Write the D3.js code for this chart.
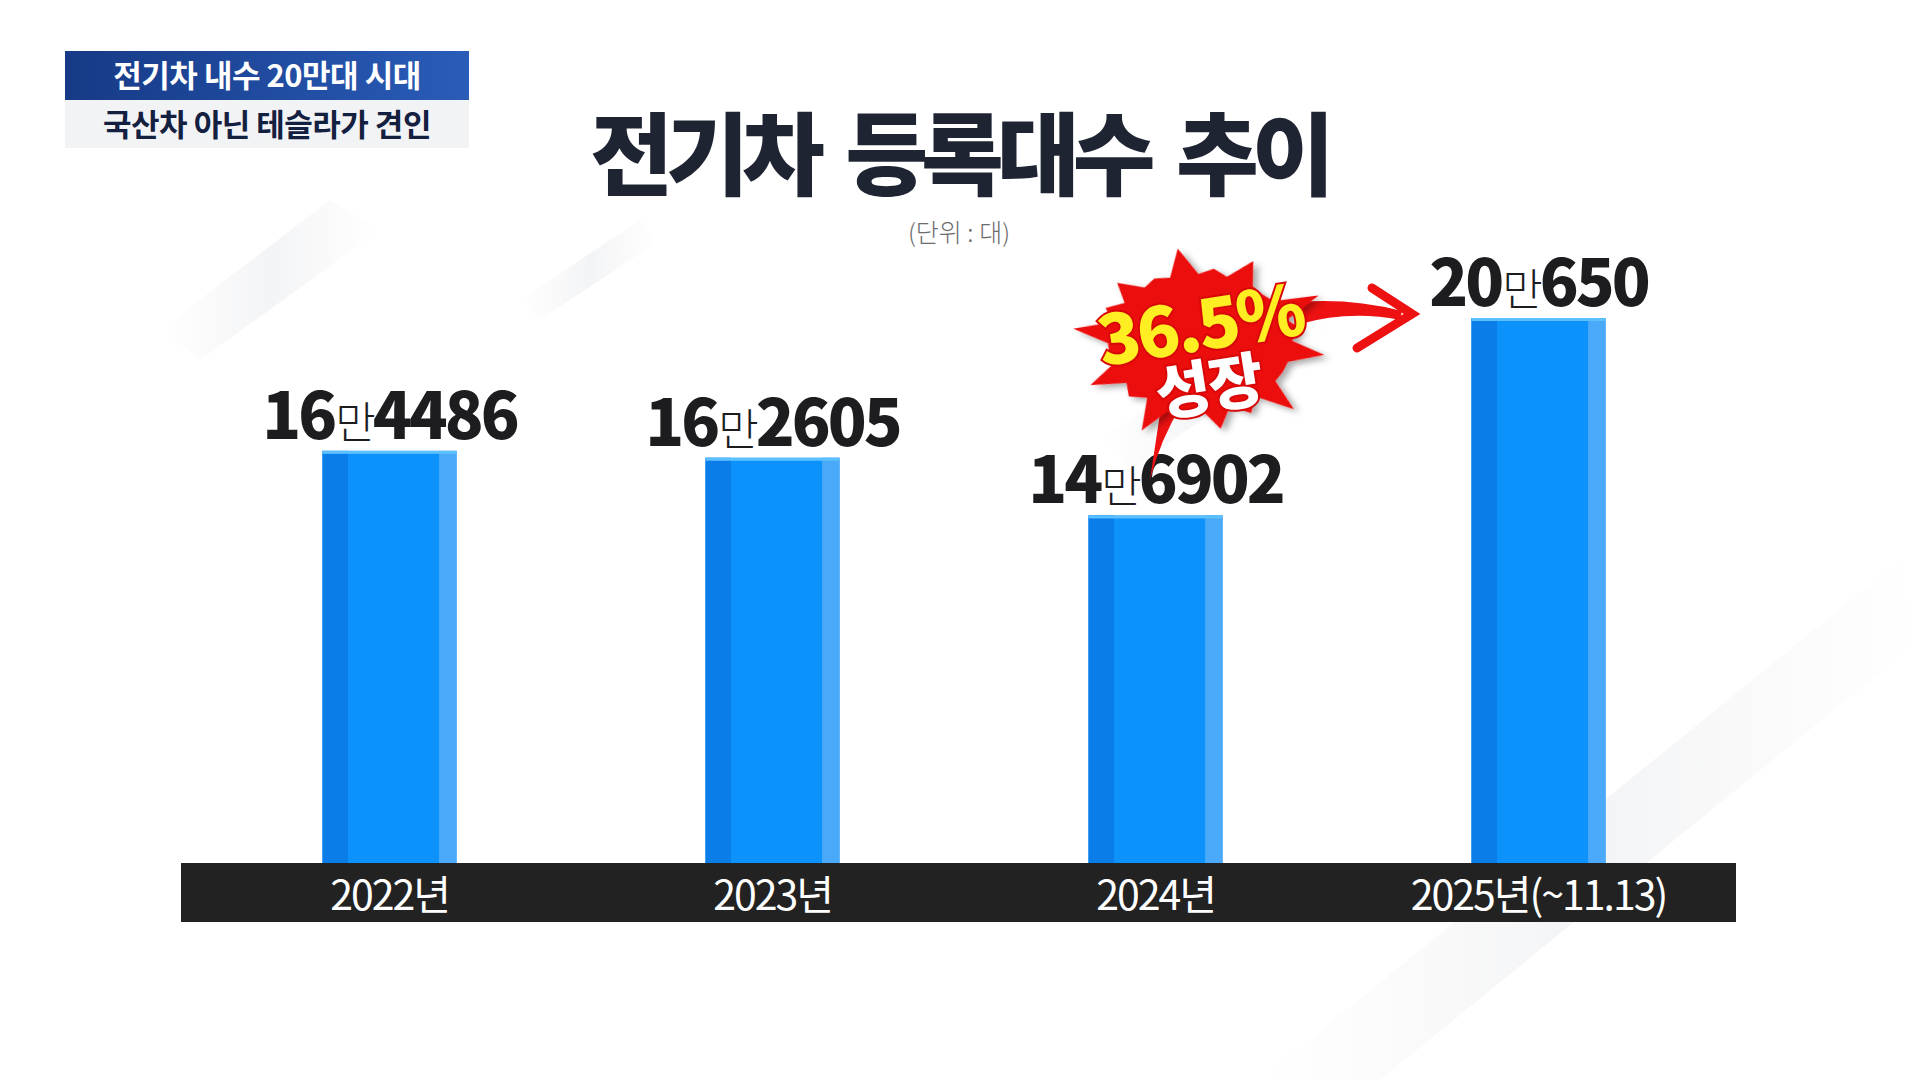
<!DOCTYPE html>
<html>
<head>
<meta charset="utf-8">
<script src="https://cdn.jsdelivr.net/npm/d3@7"></script>
<style>
  html, body { margin: 0; padding: 0; background: #fff; }
  svg { display: block; }
</style>
</head>
<body>
<div id="chart-area"></div>
<script>
// data
var years = ["2022년", "2023년", "2024년", "2025년(~11.13)"];
var man = [16, 16, 14, 20];          // 만 part
var rest = ["4486", "2605", "6902", "650"];
var counts = [164486, 162605, 146902, 200650];
var headline = ["전기차 내수 20만대 시대", "국산차 아닌 테슬라가 견인"];
var title = "전기차 등록대수 추이";
var unit = "(단위 : 대)";
var growth = ["36.5%", "성장"];

var W = 1920, H = 1080;
var font = "'Noto Sans CJK KR', 'Noto Sans', sans-serif";

var svg = d3.select("#chart-area").append("svg")
    .attr("width", W)
    .attr("height", H);

var defs = svg.append("defs");
var bg = defs.append("linearGradient").attr("id", "streak")
    .attr("x1", "0").attr("y1", "0").attr("x2", "1").attr("y2", "0");
bg.append("stop").attr("offset", "0%").attr("stop-color", "#e9ebee").attr("stop-opacity", 0);
bg.append("stop").attr("offset", "50%").attr("stop-color", "#e6e8eb").attr("stop-opacity", 0.8);
bg.append("stop").attr("offset", "100%").attr("stop-color", "#e9ebee").attr("stop-opacity", 0);

var hdr = defs.append("linearGradient").attr("id", "hdr")
    .attr("x1", "0").attr("y1", "0").attr("x2", "1").attr("y2", "0");
hdr.append("stop").attr("offset", "0%").attr("stop-color", "#163a86");
hdr.append("stop").attr("offset", "100%").attr("stop-color", "#2a5cb8");

var shadow = defs.append("filter").attr("id", "shadow")
    .attr("x", "-20%").attr("y", "-20%").attr("width", "140%").attr("height", "140%");
shadow.append("feDropShadow").attr("dx", 4).attr("dy", 5)
    .attr("stdDeviation", 4).attr("flood-color", "#000").attr("flood-opacity", 0.35);

// background streaks
var streaks = [
    [[160, 330], [330, 200], [380, 230], [200, 360]],
    [[520, 300], [640, 220], [660, 240], [540, 320]],
    [[1260, 1080], [1900, 560], [1920, 640], [1380, 1080]],
    [[1100, 440], [1300, 300], [1330, 330], [1130, 470]]
];
svg.selectAll(".streak").data(streaks).enter().append("polygon")
    .attr("class", "streak")
    .attr("points", (d) => d.map((p) => p.join(",")).join(" "))
    .attr("fill", "url(#streak)")
    .attr("opacity", 0.6);

// headline box
var hb = svg.append("g").attr("transform", "translate(65,51)");
hb.append("rect").attr("width", 404).attr("height", 49).attr("fill", "url(#hdr)");
hb.append("rect").attr("y", 49).attr("width", 404).attr("height", 48).attr("fill", "#f2f3f5");
hb.append("text")
    .attr("x", 202).attr("y", 36)
    .attr("text-anchor", "middle")
    .attr("font-family", font).attr("font-size", 31).attr("font-weight", 700)
    .attr("letter-spacing", -0.5)
    .attr("fill", "#fff")
    .text(headline[0]);
hb.append("text")
    .attr("x", 202).attr("y", 85)
    .attr("text-anchor", "middle")
    .attr("font-family", font).attr("font-size", 31).attr("font-weight", 700)
    .attr("letter-spacing", -0.5)
    .attr("fill", "#14203f")
    .text(headline[1]);

// title
svg.append("text")
    .attr("x", 959).attr("y", 188)
    .attr("text-anchor", "middle")
    .attr("font-family", font).attr("font-size", 90).attr("font-weight", 900)
    .attr("letter-spacing", -7)
    .attr("word-spacing", 14)
    .attr("fill", "#1e2431")
    .text(title);
svg.append("text")
    .attr("x", 959).attr("y", 242)
    .attr("text-anchor", "middle")
    .attr("font-family", font).attr("font-size", 25).attr("font-weight", 300)
    .attr("fill", "#6d6d6d")
    .text(unit);

// scales
var x = d3.scaleBand().domain(years).range([198, 1730])
    .paddingInner(0.65).paddingOuter(0.325);
var y = d3.scaleLinear().domain([52300, 200650]).range([863, 318]);

var data = years.map((d, i) => ({ year: d, count: counts[i], man: man[i], rest: rest[i] }));

// bars
var bars = svg.selectAll(".bar").data(data).enter().append("g").attr("class", "bar");
bars.append("rect")
    .attr("x", (d) => x(d.year))
    .attr("y", (d) => y(d.count))
    .attr("width", x.bandwidth())
    .attr("height", (d) => y.range()[0] - y(d.count))
    .attr("fill", "#0d91fb");
bars.append("rect")
    .attr("x", (d) => x(d.year))
    .attr("y", (d) => y(d.count))
    .attr("width", x.bandwidth() * 0.19)
    .attr("height", (d) => y.range()[0] - y(d.count))
    .attr("fill", "#0a7de9");
bars.append("rect")
    .attr("x", (d) => x(d.year) + x.bandwidth() * 0.87)
    .attr("y", (d) => y(d.count))
    .attr("width", x.bandwidth() * 0.13)
    .attr("height", (d) => y.range()[0] - y(d.count))
    .attr("fill", "#4aa9f8");
bars.append("rect")
    .attr("x", (d) => x(d.year))
    .attr("y", (d) => y(d.count))
    .attr("width", x.bandwidth())
    .attr("height", 3)
    .attr("fill", "#5cc0ff");

// value labels
var lbl = svg.selectAll(".val").data(data).enter().append("text")
    .attr("class", "val")
    .attr("x", (d) => x(d.year) + x.bandwidth() / 2)
    .attr("y", (d) => y(d.count) - 12)
    .attr("text-anchor", "middle")
    .attr("font-family", font)
    .attr("fill", "#1d1d1f")
    .attr("letter-spacing", -3);
lbl.append("tspan").attr("font-size", 64).attr("font-weight", 900).text((d) => d.man);
lbl.append("tspan").attr("font-size", 44).attr("font-weight", 300).attr("dx", 1).text("만");
lbl.append("tspan").attr("font-size", 64).attr("font-weight", 900).attr("dx", 0).text((d) => d.rest);

// axis band
svg.append("rect")
    .attr("x", 181).attr("y", 863)
    .attr("width", 1555).attr("height", 59)
    .attr("fill", "#222222");
var xAxisGroup = svg.append("g")
    .attr("transform", "translate(0,863)")
    .call(d3.axisBottom(x).tickSize(0).tickPadding(0));
xAxisGroup.select(".domain").remove();
xAxisGroup.selectAll("text")
    .attr("y", 47)
    .attr("dy", 0)
    .attr("font-family", font)
    .attr("font-size", 41)
    .attr("font-weight", 400)
    .attr("letter-spacing", -2)
    .attr("fill", "#fff");

// growth annotation
var ann = svg.append("g");

// arrows
ann.append("path")
    .attr("d", "M1162,400 Q1156,440 1150,480 Q1160,440 1182,404 Z")
    .attr("fill", "#ee1111");
ann.append("path")
    .attr("d", "M1300,302 Q1350,298 1402,311 L1400,320 Q1350,310 1300,324 Z")
    .attr("fill", "#ee1111");
ann.append("path")
    .attr("d", "M1372,288 L1412,314 L1357,348")
    .attr("fill", "none")
    .attr("stroke", "#ee1111")
    .attr("stroke-width", 9)
    .attr("stroke-linecap", "round")
    .attr("stroke-linejoin", "miter");

// starburst
var spikes = [1.0, 0.78, 0.95, 0.7, 1.05, 0.8, 0.98, 0.72, 1.02, 0.85, 0.93, 0.75,
              1.04, 0.8, 0.97, 0.72, 1.0, 0.82, 0.9, 0.76];
var pts = [];
spikes.forEach((r, i) => {
    var a0 = (i / spikes.length) * 2 * Math.PI;
    pts.push([a0, r * 128]);
    pts.push([a0 + Math.PI / spikes.length, 92]);
});
var burst = d3.lineRadial().curve(d3.curveLinearClosed);
ann.append("path")
    .attr("transform", "translate(1200,342) scale(1,0.74) rotate(-10)")
    .attr("d", burst(pts))
    .attr("fill", "#ec1010")
    .attr("filter", "url(#shadow)");

ann.append("text")
    .attr("transform", "translate(1204,350) rotate(-9)")
    .attr("text-anchor", "middle")
    .attr("font-family", font).attr("font-size", 70).attr("font-weight", 900)
    .attr("letter-spacing", -3)
    .attr("fill", "#ffee22")
    .attr("stroke", "#d80808").attr("stroke-width", 4)
    .attr("paint-order", "stroke")
    .text(growth[0]);
ann.append("text")
    .attr("transform", "translate(1212,408) rotate(-9)")
    .attr("text-anchor", "middle")
    .attr("font-family", font).attr("font-size", 60).attr("font-weight", 900)
    .attr("letter-spacing", -2)
    .attr("fill", "#ffffff")
    .attr("stroke", "#d80808").attr("stroke-width", 4)
    .attr("paint-order", "stroke")
    .text(growth[1]);
</script>
</body>
</html>
